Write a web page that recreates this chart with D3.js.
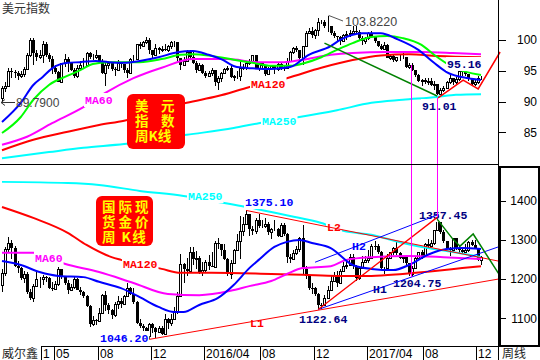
<!DOCTYPE html>
<html>
<head>
<meta charset="utf-8">
<script src="https://cdn.jsdelivr.net/npm/d3@7"></script>
<style>
  html, body { margin: 0; padding: 0; background: #fff; }
  svg { display: block; }
</style>
</head>
<body>
<svg id="chart" width="540" height="360"></svg>
<script>
// --- DATA: weekly candles, Jan 2015 .. Dec 2017 (open = previous close) ---
const usdOpen0 = 90.6;
const usdClose = [92.2,92.5,95.0,94.8,94.6,94.1,94.4,95.3,97.6,100.0,97.9,97.3,97.6,99.3,97.5,96.9,95.4,94.8,93.2,96.2,
  96.9,96.3,95.2,94.1,95.4,96.0,96.0,97.9,97.2,97.3,97.6,96.6,94.7,95.9,96.2,95.3,95.2,96.2,96.1,95.1,
  94.6,96.9,96.9,99.3,99.0,99.6,100.0,98.4,97.6,98.7,98.3,98.6,98.4,99.0,99.6,99.6,97.0,96.0,96.6,98.1,
  97.3,96.2,95.1,95.9,94.6,94.2,94.6,95.1,93.1,93.9,94.6,95.3,95.5,94.0,94.1,94.2,95.5,95.6,96.3,96.6,
  97.5,95.5,96.2,95.7,94.5,95.5,95.8,95.3,96.1,95.5,95.4,96.6,98.1,98.7,98.3,97.0,99.0,101.2,101.5,100.8,
  101.6,103.0,103.0,102.2,102.2,101.2,100.7,100.5,99.8,100.8,100.9,101.1,101.5,101.3,100.3,99.8,100.3,101.1,100.5,99.8,
  99.0,98.6,99.2,97.1,97.4,96.7,97.2,97.2,97.2,95.6,96.0,95.1,94.3,93.3,93.5,93.1,93.4,92.7,92.8,91.3,
  91.9,92.2,93.1,93.8,93.1,93.7,94.9,94.8,94.4,93.6,92.8,93.1,93.9,93.9];
const usdHigh = [92.6,93.2,95.5,95.5,95.2,94.9,95.0,95.6,97.9,100.4,100.3,98.3,98.4,99.8,99.6,97.9,97.4,95.9,95.0,96.3,
  97.8,97.2,96.4,95.5,95.9,96.6,97.0,98.0,98.0,97.8,98.3,97.6,96.9,96.5,96.6,96.4,95.6,96.7,96.4,96.1,
  95.5,97.1,97.6,99.4,99.6,99.9,100.5,100.4,98.4,99.3,98.8,99.0,99.3,99.2,99.8,99.9,99.7,97.1,97.3,98.4,
  98.3,98.0,96.6,96.2,96.1,95.0,95.0,95.4,95.2,94.2,94.8,95.4,95.8,95.9,94.3,95.0,96.7,96.1,96.6,96.9,
  97.6,97.6,96.3,96.4,95.8,95.6,96.0,96.0,96.2,96.5,95.8,97.0,98.2,98.8,99.1,98.4,99.1,101.4,101.9,102.1,
  101.8,103.6,103.3,103.3,103.822,102.3,101.5,100.7,100.6,101.0,101.4,101.7,102.2,102.3,101.6,100.6,100.5,101.3,101.4,100.5,
  99.8,99.3,99.6,99.3,97.6,97.6,97.3,97.6,97.9,97.3,96.3,96.2,95.2,94.5,93.6,93.9,93.8,93.9,93.3,92.9,
  92.2,92.6,93.4,94.3,93.9,94.0,95.16,95.1,95.0,94.5,93.6,93.5,94.1,94.2];
const usdLow = [89.79,91.6,92.3,93.9,93.8,93.5,93.8,94.0,95.2,97.3,95.9,96.6,96.9,96.3,97.2,96.5,94.5,94.4,93.1,93.2,
  95.6,94.8,94.9,93.8,93.9,95.1,95.4,95.8,96.9,96.8,96.9,96.4,94.5,92.6,95.3,94.9,94.2,95.0,95.4,94.7,
  93.8,94.4,96.3,96.7,98.6,98.8,99.4,97.8,96.9,97.5,97.8,98.1,98.2,98.1,98.6,98.8,96.4,95.2,96.0,96.4,
  96.9,96.1,94.6,95.0,94.4,93.8,94.0,94.2,92.6,91.9,93.2,94.5,94.9,93.8,93.4,93.6,93.3,95.1,95.2,95.9,
  96.4,95.4,94.9,95.4,94.1,94.4,95.2,94.5,95.0,95.2,94.9,95.3,96.5,97.7,98.0,96.8,96.0,98.9,100.9,100.3,
  100.1,100.6,102.6,101.9,101.3,100.8,100.3,99.7,99.2,99.6,100.0,100.5,100.8,101.0,99.9,99.2,99.4,100.0,100.3,99.5,
  98.9,98.3,98.5,97.0,96.8,96.5,96.4,96.6,96.9,95.5,95.3,94.9,94.0,93.2,92.6,92.9,92.7,92.5,91.9,91.01,
  91.2,91.5,92.0,92.9,92.7,92.8,93.4,94.2,94.1,93.4,92.5,92.5,92.9,93.5];

const goldOpen0 = 1184;
const goldClose = [1216,1277,1293,1279,1234,1228,1204,1213,1167,1152,1183,1199,1201,1206,1203,1178,1174,1188,1225,1205,
  1190,1172,1179,1201,1173,1168,1157,1132,1085,1095,1094,1113,1160,1134,1121,1108,1137,1145,1137,1156,
  1177,1162,1142,1088,1081,1076,1056,1085,1075,1066,1076,1061,1098,1089,1097,1118,1158,1239,1227,1221,
  1270,1250,1255,1217,1222,1243,1234,1231,1291,1289,1273,1252,1212,1242,1275,1298,1322,1340,1366,1327,
  1323,1350,1335,1336,1341,1320,1327,1328,1310,1337,1316,1257,1251,1267,1276,1304,1225,1208,1178,1177,
  1161,1134,1133,1152,1173,1196,1210,1191,1220,1234,1236,1257,1234,1202,1229,1244,1249,1254,1285,1284,
  1268,1228,1228,1254,1268,1280,1266,1255,1256,1242,1212,1228,1254,1269,1258,1289,1285,1291,1325,1347,
  1320,1297,1279,1274,1304,1280,1273,1270,1275,1294,1288,1280,1249,1257];
const goldHigh = [1226,1283,1307,1300,1285,1245,1231,1220,1218,1175,1188,1220,1206,1211,1209,1206,1192,1196,1232,1225,
  1209,1197,1188,1205,1204,1180,1170,1160,1135,1105,1098,1126,1163,1170,1140,1124,1142,1157,1152,1160,
  1191,1180,1176,1143,1097,1086,1078,1088,1088,1078,1081,1081,1112,1102,1111,1129,1168,1263,1240,1253,
  1281,1283,1271,1260,1244,1249,1262,1270,1297,1304,1288,1289,1255,1248,1278,1316,1362,1358,1375.1,1367,
  1336,1357,1367,1352,1357,1346,1331,1352,1330,1344,1342,1318,1264,1273,1284,1308,1338,1233,1211,1190,
  1180,1164,1140,1160,1182,1207,1219,1220,1225,1244,1245,1263,1264,1235,1233,1259,1259,1274,1289,1296,
  1289,1271,1232,1263,1270,1283,1296,1268,1260,1258,1242,1234,1257,1270,1274,1292,1301,1299,1326,1357.45,
  1342,1326,1297,1283,1306,1306,1284,1283,1289,1297,1299,1300,1280,1260];
const goldLow = [1167,1207,1270,1250,1230,1216,1197,1190,1163,1147,1142,1182,1178,1186,1193,1174,1170,1172,1183,1199,
  1184,1162,1169,1175,1171,1160,1151,1130,1077,1080,1084,1090,1110,1118,1112,1098,1104,1124,1126,1134,
  1154,1159,1136,1085,1076,1063,1052,1046.2,1062,1050,1065,1058,1060,1073,1081,1096,1110,1156,1191,1209,
  1220,1237,1226,1214,1208,1218,1223,1230,1231,1276,1260,1248,1208,1199,1240,1272,1250,1310,1337,1310,
  1312,1314,1331,1330,1330,1312,1301,1322,1308,1309,1309,1241,1241,1251,1262,1270,1211,1200,1171,1162,
  1156,1122.64,1124,1131,1148,1170,1196,1180,1188,1218,1225,1234,1226,1195,1198,1227,1240,1240,1250,1274,
  1264,1225,1214,1226,1250,1262,1261,1250,1240,1236,1205,1204.75,1231,1248,1251,1257,1280,1281,1287,1323,
  1315,1291,1276,1260,1270,1275,1265,1264,1268,1270,1284,1276,1245,1237];

// moving averages as [week, value]
const usdMaShort = [[0,86.7],[6,89.8],[10,92.7],[13,94.0],[16,95.4],[21,96.3],[25,96.4],[30,96.6],[34,96.4],[39,96.3],
  [44,96.6],[50,97.2],[56,98.0],[61,98.2],[66,97.6],[70,96.9],[75,95.6],[80,95.4],[86,95.3],[92,95.6],[98,97.6],
  [105,99.0],[108,100.0],[115,101.1],[121,101.1],[126,100.2],[133,98.4],[138,96.3],[142,94.8],[149,93.8],[153,93.5]];
const usdMaMid = [[0,84.9],[6,87.5],[10,90.3],[15,92.7],[21,94.2],[25,95.1],[29,96.1],[34,96.4],[38,96.4],[44,96.4],
  [51,96.9],[57,97.6],[61,97.7],[67,97.4],[74,96.8],[80,96.3],[86,95.8],[92,95.8],[97,96.3],[102,97.2],[107,98.4],
  [112,99.5],[118,100.5],[123,100.65],[128,100.3],[134,99.2],[138,97.6],[144,95.6],[153,94.3]];
const usdMa60 = [[0,83.0],[8,84.3],[16,86.5],[26,89.1],[33,91.4],[42,93.8],[51,95.5],[61,96.9],[72,96.9],[82,96.4],
  [90,96.4],[96,96.8],[105,97.6],[112,97.9],[123,98.05],[134,98.05],[144,97.9],[153,97.7]];
const usdMa120 = [[0,82.1],[10,83.8],[21,85.1],[31,86.2],[39,86.9],[59,89.8],[69,90.9],[78,92.2],[91,93.8],[102,95.5],
  [112,96.75],[121,97.5],[130,97.7],[139,97.4],[153,97.2]];
const usdMa250 = [[0,80.8],[15,81.8],[26,82.5],[39,83.1],[59,84.6],[74,85.7],[82,86.5],[95,87.5],[107,88.6],[118,89.8],
  [128,90.3],[139,90.75],[145,91.1],[153,91.2]];

const goldMaShort = [[0,1246],[6,1236],[12,1218],[18,1208],[26,1205],[31,1193],[38,1177],[44,1154],[50,1129],[55,1116],
  [58,1116],[63,1134],[69,1152],[74,1185],[79,1228],[82,1249],[87,1282],[91,1295],[95,1300],[99,1292],[105,1279],
  [112,1236],[118,1226],[125,1223],[130,1236],[136,1262],[142,1277],[147,1279],[153,1277]];
const goldMa60 = [[0,1267],[10,1267],[20,1239],[31,1218],[42,1190],[53,1162],[63,1159],[73,1170],[79,1182],[86,1195],
  [91,1213],[96,1228],[105,1233],[110,1249],[118,1256],[130,1259],[141,1256],[153,1251]];
const goldMa120 = [[0,1384],[10,1356],[21,1318],[27,1287],[35,1256],[38,1249],[51,1226],[57,1216],[67,1216],[86,1213],
  [96,1211],[107,1208],[118,1208],[128,1213],[139,1221],[147,1228],[153,1233]];
const goldMa250 = [[0,1448],[21,1445],[31,1440],[44,1425],[58,1412],[71,1394],[80,1381],[86,1371],[92,1361],[102,1343],
  [109,1323],[118,1313],[128,1292],[136,1279],[144,1269],[153,1256]];

// hand-drawn study lines
const usdDownTrend = [[103,99.5],[139,90.9]];
const usdPath = [[139.3,90.6],[147.3,93.5],[152.1,92.05],[159.1,98.05]];
const goldL1 = [[47,1046.2],[158.5,1200]];
const goldL2 = [[78,1375.1],[158.5,1246]];
const goldH1 = [[101,1122.64],[158.5,1282]];
const goldH2 = [[100,1243],[139.5,1365]];
const goldRise = [[101,1122.64],[139,1357.45]];
const goldZigzag = [[139,1353],[144,1302],[146.3,1284],[150.5,1315],[159.1,1208]];
const linkWeeks = [130.6, 139.1];
const linkUsd = [95.9, 90.6];
const linkGold = [1204.75, 1357.45];

const usdTicks = [85, 90, 95, 100];
const goldTicks = [1100, 1200, 1300, 1400];
const dateTicks = [13, 17, 31, 48, 65, 83, 100, 117, 135, 152];
const dateLabels = ["1", "05", "08", "12", "2016/04", "08", "12", "2017/04", "08", "12"];

const usdTags = [
  { t: "MA60", i: 26.5, v: 90.26, c: "#ff00ff" },
  { t: "MA120", i: 79.6, v: 92.86, c: "#ff0000" },
  { t: "MA250", i: 83, v: 86.85, c: "#00ffff" },
  { t: "95.16", i: 142.2, v: 96.1, c: "#000080" },
  { t: "91.01", i: 134.2, v: 89.29, c: "#000080" }
];
const goldTags = [
  { t: "MA250", i: 59.4, v: 1412, c: "#00ffff" },
  { t: "1375.10", i: 77.6, v: 1396.7, c: "#0000ff" },
  { t: "MA60", i: 10.5, v: 1253.8, c: "#ff00ff" },
  { t: "MA120", i: 38.7, v: 1238.5, c: "#ff0000" },
  { t: "L2", i: 103.8, v: 1332.9, c: "#ff0000" },
  { t: "H2", i: 111.8, v: 1284.4, c: "#0000ff" },
  { t: "1357.45", i: 133.2, v: 1363.5, c: "#000080" },
  { t: "1204.75", i: 124.9, v: 1190.1, c: "#000080" },
  { t: "H1", i: 118.5, v: 1174.8, c: "#000080" },
  { t: "1122.64", i: 94.9, v: 1099.2, c: "#000080" },
  { t: "L1", i: 79.2, v: 1087.9, c: "#ff0000" },
  { t: "1046.20", i: 31.3, v: 1049.7, c: "#0000ff" }
];

// --- SCALES ---
const svg = d3.select("#chart");
const N = usdClose.length;
const x = d3.scaleLinear().domain([0, N - 1]).range([2, 481]);
const yTop = d3.scaleLinear().domain([79.87, 106.49]).range([164, 0]);
const yBot = d3.scaleLinear().domain([1029.3, 1488.5]).range([346, 166]);

const defs = svg.append("defs");
defs.append("clipPath").attr("id", "clipTop").append("rect").attr("width", 498).attr("height", 164);
defs.append("clipPath").attr("id", "clipBot").append("rect").attr("y", 166).attr("width", 498).attr("height", 180);

const gTop = svg.append("g").attr("clip-path", "url(#clipTop)");
const gBot = svg.append("g").attr("clip-path", "url(#clipBot)");

function candles(g, open0, close, high, low, y) {
  const rows = close.map((c, i) => ({ i, o: i ? close[i - 1] : open0, c, h: high[i], l: low[i] }));
  const px = d => Math.round(x(d.i));
  const cg = g.append("g").attr("shape-rendering", "crispEdges");
  cg.selectAll("line").data(rows).join("line")
    .attr("x1", d => px(d) + 0.5).attr("x2", d => px(d) + 0.5)
    .attr("y1", d => Math.round(y(d.h))).attr("y2", d => Math.round(y(d.l)))
    .attr("stroke", "#000");
  cg.selectAll("rect.up").data(rows.filter(d => d.c >= d.o)).join("rect").attr("class", "up")
    .attr("x", d => px(d) - 0.5)
    .attr("y", d => Math.round(y(d.c)) + 0.5)
    .attr("width", 2)
    .attr("height", d => Math.max(0, Math.round(y(d.o)) - Math.round(y(d.c))))
    .attr("fill", "#fff").attr("stroke", "#000");
  cg.selectAll("rect.dn").data(rows.filter(d => d.c < d.o)).join("rect").attr("class", "dn")
    .attr("x", d => px(d) - 1)
    .attr("y", d => Math.round(y(d.o)))
    .attr("width", 3)
    .attr("height", d => Math.max(1, Math.round(y(d.c)) - Math.round(y(d.o))))
    .attr("fill", "#000");
}

function maLine(g, pts, y, color, w) {
  g.append("path").datum(pts)
    .attr("d", d3.line().x(d => x(d[0])).y(d => y(d[1])).curve(d3.curveMonotoneX))
    .attr("fill", "none").attr("stroke", color).attr("stroke-width", w || 2);
}

function straight(g, pts, y, color, w) {
  g.append("path").datum(pts)
    .attr("d", d3.line().x(d => x(d[0])).y(d => y(d[1])))
    .attr("fill", "none").attr("stroke", color).attr("stroke-width", w || 1);
}

function tags(g, list, y) {
  const tg = g.selectAll("g.tag").data(list).join("g").attr("class", "tag")
    .attr("transform", d => `translate(${Math.round(x(d.i))},${Math.round(y(d.v))})`);
  tg.append("rect").attr("x", -1).attr("y", -7).attr("height", 14)
    .attr("width", d => d.t.length * 6.9 + 2).attr("fill", "#fff");
  tg.append("text").attr("y", 4).attr("fill", d => d.c)
    .style("font", "bold 11.5px 'Liberation Mono', 'DejaVu Sans Mono', monospace")
    .text(d => d.t);
}

// red caption box, one text per row, spaced out with letter-spacing
function infoBox(g, bx, by, bw, bh, rows) {
  g.append("rect").attr("x", bx).attr("y", by).attr("width", bw).attr("height", bh)
    .attr("rx", 6).attr("fill", "#ff0000");
  rows.forEach(r => g.append("text").attr("x", r.x).attr("y", r.y).attr("fill", "#ffff00")
    .style("font", "bold 13.5px 'Noto Sans CJK SC', sans-serif")
    .style("letter-spacing", r.ls + "px").style("white-space", "pre").text(r.t));
}

// --- TOP PANE: USD index ---
candles(gTop, usdOpen0, usdClose, usdHigh, usdLow, yTop);
maLine(gTop, usdMa250, yTop, "#00ffff");
maLine(gTop, usdMa120, yTop, "#ff0000");
maLine(gTop, usdMa60, yTop, "#ff00ff");
maLine(gTop, usdMaMid, yTop, "#00ff00");
maLine(gTop, usdMaShort, yTop, "#0000ff");
tags(gTop, usdTags, yTop);
infoBox(gTop, 127, 94, 58, 55, [
  { t: "美元", x: 135, y: 111, ls: 12.5 },
  { t: "指数", x: 135, y: 126, ls: 12.5 },
  { t: "周K线", x: 135, y: 141, ls: 0 }
]);
straight(svg, usdDownTrend, yTop, "#008000", 1.5);
straight(svg, usdPath, yTop, "#ff0000", 1.5);

// peak / trough notes
const peakI = usdHigh.indexOf(d3.max(usdHigh));
svg.append("line").attr("x1", x(peakI) + 1).attr("y1", yTop(usdHigh[peakI]) - 1)
  .attr("x2", 343).attr("y2", 21).attr("stroke", "#555");
svg.append("text").attr("x", 345).attr("y", 26).attr("fill", "#444")
  .style("font", "12.5px 'Liberation Sans', Arial, sans-serif").text(d3.max(usdHigh).toFixed(4));
const lowY = Math.round(yTop(d3.min(usdLow))) - 0.5;
svg.append("path").attr("d", `M15,${lowY}H1M5,${lowY - 3}L1,${lowY}L5,${lowY + 3}`)
  .attr("fill", "none").attr("stroke", "#333");
svg.append("text").attr("x", 16).attr("y", lowY + 4.5).attr("fill", "#444")
  .style("font", "12px 'Liberation Sans', Arial, sans-serif").text(d3.min(usdLow).toFixed(4));

// --- BOTTOM PANE: gold ---
candles(gBot, goldOpen0, goldClose, goldHigh, goldLow, yBot);
maLine(gBot, goldMa250, yBot, "#00ffff");
maLine(gBot, goldMa120, yBot, "#ff0000");
maLine(gBot, goldMa60, yBot, "#ff00ff");
maLine(gBot, goldMaShort, yBot, "#0000ff");
tags(gBot, goldTags, yBot);
infoBox(gBot, 96, 196, 57, 50, [
  { t: "国际现", x: 102, y: 212, ls: 3 },
  { t: "货金价", x: 102, y: 227, ls: 3 },
  { t: "周 K线", x: 102, y: 242, ls: 1.5 }
]);
straight(svg, goldL1, yBot, "#ff0000");
straight(svg, goldL2, yBot, "#ff0000");
straight(svg, goldH1, yBot, "#0000ff");
straight(svg, goldH2, yBot, "#0000ff");
straight(svg, goldRise, yBot, "#ff0000", 1.3);
straight(svg, goldZigzag, yBot, "#008000", 1.5);

// links between the two panes
svg.append("g").attr("shape-rendering", "crispEdges")
  .selectAll("line").data(linkWeeks).join("line")
  .attr("x1", d => Math.round(x(d)) + 0.5).attr("x2", d => Math.round(x(d)) + 0.5)
  .attr("y1", (d, k) => Math.round(yTop(linkUsd[k]))).attr("y2", (d, k) => Math.round(yBot(linkGold[k])))
  .style("stroke", "#ff00ff").style("stroke-width", 1);

// --- FRAME & AXES ---
const frame = svg.append("g").attr("stroke", "#000").attr("shape-rendering", "crispEdges");
frame.append("line").attr("x1", 0).attr("x2", 498).attr("y1", 164.5).attr("y2", 164.5);
frame.append("line").attr("x1", 498.5).attr("x2", 498.5).attr("y1", 0).attr("y2", 360);
frame.append("rect").attr("x", 499.5).attr("y", 166.5).attr("width", 39.5).attr("height", 179.5)
  .attr("fill", "none").attr("stroke-width", 2);
const sepX = i => Math.round(x(i) - 1.5) + 0.5;
frame.append("line").attr("x1", sepX(dateTicks[0])).attr("x2", 540).attr("y1", 346.5).attr("y2", 346.5);
frame.selectAll("line.sep").data(dateTicks).join("line").attr("class", "sep")
  .attr("x1", sepX).attr("x2", sepX).attr("y1", 346).attr("y2", 360);

svg.selectAll("text.date").data(dateTicks).join("text").attr("class", "date")
  .attr("x", d => sepX(d) + 1.5).attr("y", 357.5)
  .style("font", "12px 'Liberation Sans', Arial, sans-serif").text((d, k) => dateLabels[k]);

const cjk = "12px 'Noto Sans CJK SC', sans-serif";
svg.append("text").attr("x", 2).attr("y", 13).attr("fill", "#333").style("font", cjk).text("美元指数");
svg.append("text").attr("x", 2).attr("y", 357.5).attr("fill", "#222").style("font", cjk).text("威尔鑫");
svg.append("text").attr("x", 502).attr("y", 357.5).attr("fill", "#222").style("font", cjk).text("周线");

function rightAxis(y, ticks, minor) {
  const a = svg.append("g").attr("transform", "translate(498.5,0)");
  a.call(d3.axisRight(y).tickValues(minor).tickSize(2).tickFormat(""));
  a.call(d3.axisRight(y).tickValues(ticks).tickSize(7).tickFormat(d3.format("d")));
  a.selectAll(".domain").remove();
  a.selectAll("line").attr("stroke", "#000").attr("shape-rendering", "crispEdges");
  a.selectAll("text").attr("x", 38.5).attr("text-anchor", "end").attr("fill", "#000")
    .style("font", "12px 'Liberation Sans', Arial, sans-serif");
}
rightAxis(yTop, usdTicks, d3.range(80, 107));
rightAxis(yBot, goldTicks, d3.range(1040, 1490, 20));
</script>
</body>
</html>
